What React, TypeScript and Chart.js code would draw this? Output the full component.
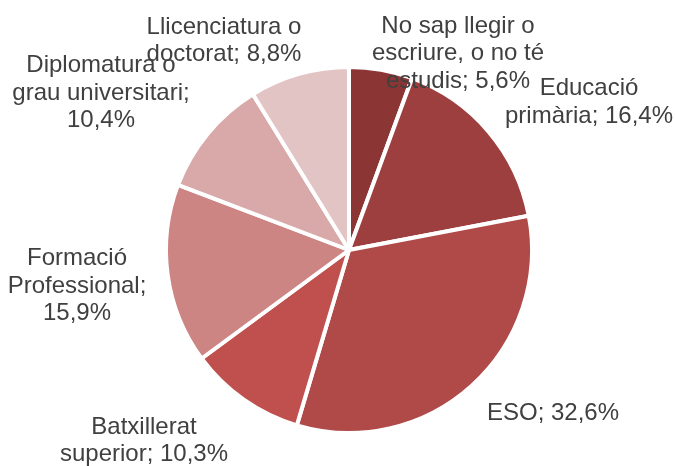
import React, { useEffect, useRef } from "react";
import { Chart, registerables } from "chart.js";

Chart.register(...registerables);

const categories = [
  "No sap llegir o escriure, o no té estudis",
  "Educació primària",
  "ESO",
  "Batxillerat superior",
  "Formació Professional",
  "Diplomatura o grau universitari",
  "Llicenciatura o doctorat",
];
const values = [5.6, 16.4, 32.6, 10.3, 15.9, 10.4, 8.8];
const labelLines = [
  ["No sap llegir o", "escriure, o no té", "estudis; 5,6%"],
  ["Educació", "primària; 16,4%"],
  ["ESO; 32,6%"],
  ["Batxillerat", "superior; 10,3%"],
  ["Formació", "Professional;", "15,9%"],
  ["Diplomatura o", "grau universitari;", "10,4%"],
  ["Llicenciatura o", "doctorat; 8,8%"],
];

const colors = ["#8B3535", "#9D3F3F", "#AF4A48", "#C0504D", "#CD8584", "#D9A9A9", "#E3C4C5"];
// label block centres relative to the pie centre
const labelOffsets: [number, number][] = [
  [109, -196.5],
  [240, -147.5],
  [204, 163],
  [-205, 191],
  [-272, 36],
  [-248, -157],
  [-125, -209],
];

const labelPlugin = {
  id: "pieLabels",
  afterDraw(chart: any) {
    const meta = chart.getDatasetMeta(0);
    if (!meta.data.length) return;
    const arc = meta.data[0];
    const cx = arc.x;
    const cy = arc.y;
    const ctx = chart.ctx;
    ctx.save();
    ctx.fillStyle = "#404040";
    ctx.font = "24px 'Liberation Sans', Arial, sans-serif";
    ctx.textAlign = "center";
    ctx.textBaseline = "middle";
    const lh = 27.5;
    labelLines.forEach((lines, i) => {
      const [ox, oy] = labelOffsets[i];
      const startY = cy + oy - ((lines.length - 1) * lh) / 2;
      lines.forEach((t, j) => {
        ctx.fillText(t, cx + ox, startY + j * lh);
      });
    });
    ctx.restore();
  },
};

export default function App() {
  const ref = useRef<HTMLCanvasElement>(null);
  useEffect(() => {
    document.body.style.margin = "0";
    const chart = new Chart(ref.current!, {
      type: "pie",
      data: {
        labels: categories,
        datasets: [
          {
            data: values,
            backgroundColor: colors,
            borderColor: "#FFFFFF",
            borderWidth: 4,
            radius: 183,
          },
        ],
      },
      options: {
        animation: false,
        responsive: false,
        maintainAspectRatio: false,
        layout: { padding: { left: 23, right: 0, top: 34, bottom: 0 } },
        plugins: {
          legend: { display: false },
          tooltip: { enabled: false },
        },
      },
      plugins: [labelPlugin],
    });
    return () => chart.destroy();
  }, []);
  return (
    <div style={{ width: 675, height: 466, background: "#fff" }}>
      <canvas ref={ref} width={675} height={466} style={{ width: 675, height: 466 }} />
    </div>
  );
}
